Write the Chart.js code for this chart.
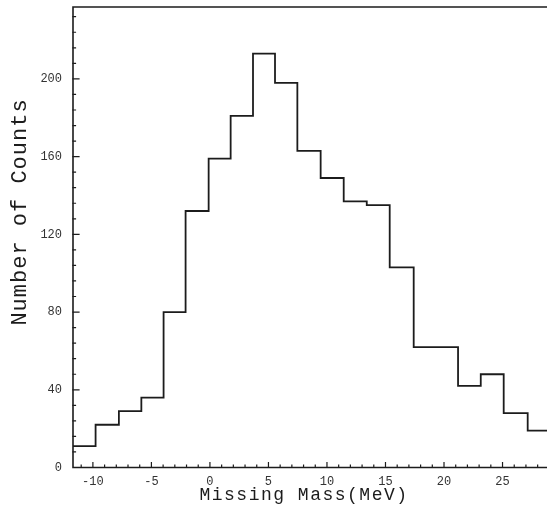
<!DOCTYPE html>
<html>
<head>
<meta charset="utf-8">
<script src="https://cdn.jsdelivr.net/npm/chart.js@4/dist/chart.umd.min.js"></script>
<style>
  html, body { margin: 0; padding: 0; background: #fff; }
  canvas { display: block; }
</style>
</head>
<body>
<canvas id="c" width="547" height="510"></canvas>
<script>
// Left edge of each bin (MeV) and the counts in that bin
const binEdges = [-11.7, -9.77, -7.78, -5.86, -3.96, -2.08, -0.11, 1.77, 3.68, 5.56,
                  7.47, 9.46, 11.43, 13.40, 15.36, 17.41, 19.29, 21.20, 23.14, 25.10, 27.15];
const counts   = [11, 22, 29, 36, 80, 132, 159, 181, 213, 198,
                  163, 149, 137, 135, 103, 62, 62, 42, 48, 28, 19];

// Axis ranges and labelled ticks
const xRange = [-11.7, 28.8];
const yRange = [0, 237];
const xLabelTicks = [-10, -5, 0, 5, 10, 15, 20, 25];
const yLabelTicks = [0, 40, 80, 120, 160, 200];
const xMinorStep = 1;
const yMinorStep = 8;

const xTitle = 'Missing Mass(MeV)';
const yTitle = 'Number of Counts';

const INK = '#1c1c1c';
const MONO = '"Liberation Mono", "DejaVu Sans Mono", monospace';

// Step outline: each bin value holds from its left edge to the next edge
const points = binEdges.map((x, i) => ({ x, y: counts[i] }));
points.push({ x: xRange[1], y: counts[counts.length - 1] });

// Frame, inward tick marks and axis titles
const framePlugin = {
  id: 'frame',
  afterDraw(chart) {
    const { ctx, chartArea: a, scales: { x, y } } = chart;
    ctx.save();
    ctx.strokeStyle = INK;
    ctx.lineCap = 'square';

    // left axis, bottom axis and top border
    ctx.lineWidth = 1.6;
    ctx.beginPath();
    ctx.moveTo(a.left, a.top);
    ctx.lineTo(a.left, a.bottom);
    ctx.lineTo(a.right, a.bottom);
    ctx.moveTo(a.left, a.top);
    ctx.lineTo(a.right, a.top);
    ctx.stroke();

    // x ticks pointing up into the plot
    ctx.lineWidth = 1.2;
    ctx.beginPath();
    for (let v = Math.ceil(xRange[0]); v <= xRange[1]; v += xMinorStep) {
      const px = x.getPixelForValue(v);
      const len = xLabelTicks.includes(v) ? 5 : 2.5;
      ctx.moveTo(px, a.bottom);
      ctx.lineTo(px, a.bottom - len);
    }
    // y ticks pointing right into the plot
    for (let v = yRange[0] + yMinorStep; v <= yRange[1]; v += yMinorStep) {
      const py = y.getPixelForValue(v);
      const len = yLabelTicks.includes(v) ? 6 : 2.5;
      ctx.moveTo(a.left, py);
      ctx.lineTo(a.left + len, py);
    }
    ctx.stroke();

    // axis titles
    ctx.fillStyle = INK;
    ctx.textAlign = 'center';
    ctx.textBaseline = 'middle';
    ctx.font = '18px ' + MONO;
    ctx.letterSpacing = '1.5px';
    ctx.fillText(xTitle, 304, 495);

    ctx.translate(20, 212);
    ctx.rotate(-Math.PI / 2);
    ctx.font = '22px ' + MONO;
    ctx.letterSpacing = '1px';
    ctx.fillText(yTitle, 0, 0);
    ctx.restore();
  }
};

new Chart(document.getElementById('c'), {
  type: 'line',
  data: {
    datasets: [{
      data: points,
      stepped: 'before',
      borderColor: INK,
      borderWidth: 1.8,
      pointRadius: 0,
      fill: false,
      tension: 0
    }]
  },
  options: {
    responsive: false,
    animation: false,
    events: [],
    layout: { padding: { top: 7, right: 0, left: 0, bottom: 0 } },
    plugins: { legend: { display: false }, tooltip: { enabled: false }, title: { display: false } },
    scales: {
      x: {
        type: 'linear',
        position: 'bottom',
        min: xRange[0],
        max: xRange[1],
        grid: { display: false, drawTicks: false },
        border: { display: false },
        ticks: {
          includeBounds: false,
          autoSkip: false,
          maxRotation: 0,
          padding: 7,
          color: '#333',
          font: { family: MONO, size: 12 },
          callback: v => String(v)
        },
        afterBuildTicks: s => { s.ticks = xLabelTicks.map(v => ({ value: v })); },
        afterFit: s => { s.height = 42.5; s.paddingLeft = 0; s.paddingRight = 0; }
      },
      y: {
        type: 'linear',
        min: yRange[0],
        max: yRange[1],
        grid: { display: false, drawTicks: false },
        border: { display: false },
        ticks: {
          includeBounds: false,
          padding: 11,
          color: '#333',
          font: { family: MONO, size: 12 },
          callback: v => String(v)
        },
        afterBuildTicks: s => { s.ticks = yLabelTicks.map(v => ({ value: v })); },
        afterFit: s => { s.width = 73; s.paddingTop = 0; s.paddingBottom = 0; }
      }
    }
  },
  plugins: [framePlugin]
});
</script>
</body>
</html>
